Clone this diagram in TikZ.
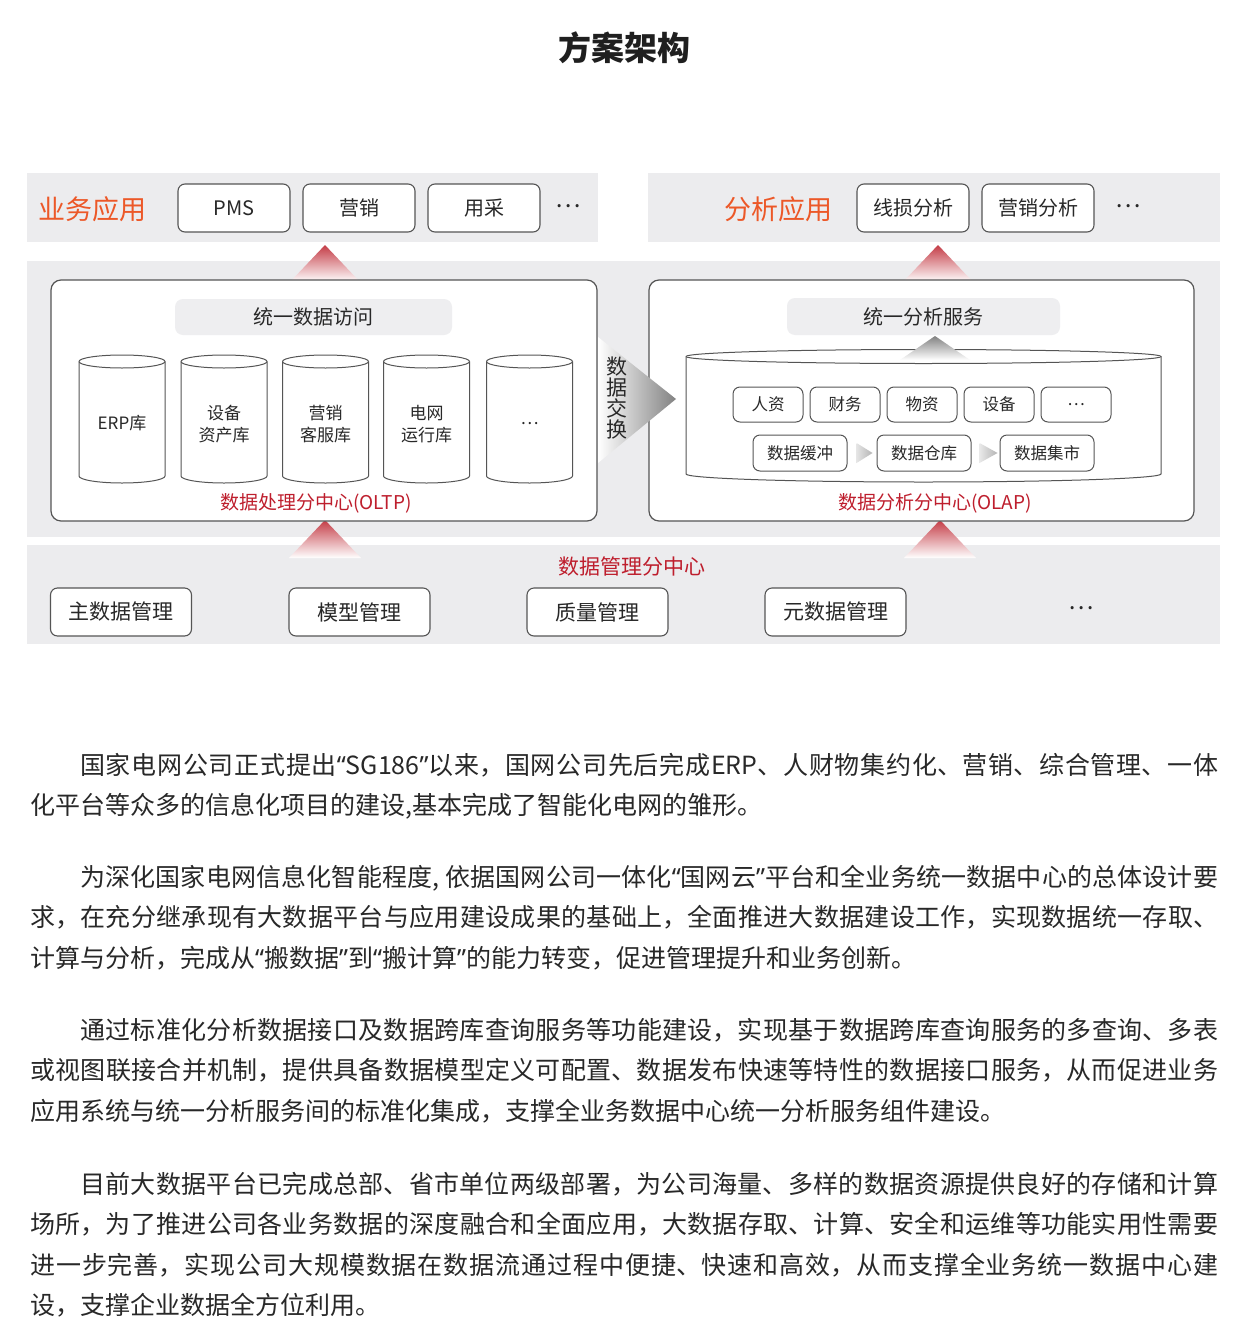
\documentclass[tikz,border=0pt]{standalone}
\usepackage{fontspec}
\setmainfont{Noto Sans CJK SC}
\newfontfamily\qtfont{Noto Sans}
\newcommand\qo{{\qtfont “}}
\newcommand\qc{{\qtfont ”}}
\XeTeXlinebreaklocale "zh"
\XeTeXlinebreakskip = 0pt plus 2pt minus 0.6pt
\tolerance=9999
\definecolor{bandgray}{RGB}{236,236,238}
\definecolor{boxline}{RGB}{85,85,85}
\definecolor{txt}{RGB}{40,40,40}
\definecolor{appred}{RGB}{236,88,40}
\definecolor{dred}{RGB}{190,30,45}
\definecolor{trired}{RGB}{196,60,70}
\definecolor{lightrect}{RGB}{238,238,240}
\definecolor{arrgray}{RGB}{130,130,130}
\tikzset{
  band/.style={fill=bandgray, draw=none},
  appbox/.style={draw=boxline, line width=1.1pt, rounded corners=7pt, fill=white,
    minimum width=112pt, minimum height=48pt, inner sep=0pt, text=txt, font=\fontsize{20}{24}\selectfont},
  mgbox/.style={appbox, minimum width=141pt, minimum height=48pt, font=\fontsize{21}{24}\selectfont},
  smallbox/.style={draw=boxline, line width=1pt, rounded corners=7pt, fill=white,
    minimum width=70pt, minimum height=35pt, inner sep=0pt, text=txt, font=\fontsize{16.5}{20}\selectfont},
  bufbox/.style={smallbox, minimum width=94pt, minimum height=36pt},
  panel/.style={draw=boxline, line width=1.2pt, rounded corners=10pt, fill=white},
  cyl/.style={draw=boxline, line width=1pt, fill=white},
  cyltxt/.style={text=txt, align=center, inner sep=0pt, font=\fontsize{17}{22}\selectfont},
  grouplabel/.style={text=appred, inner sep=0pt, font=\fontsize{27}{30}\selectfont},
  redlabel/.style={text=dred, inner sep=0pt, font=\fontsize{19}{22}\selectfont},
  svclabel/.style={text=txt, inner sep=0pt, font=\fontsize{20}{24}\selectfont},
  dotstxt/.style={text=txt, inner sep=0pt, font=\fontsize{24}{24}\selectfont},
  para/.style={anchor=base west, text width=1188pt, align=justify, inner sep=0pt,
    text=txt, font=\fontsize{25}{40.4}\selectfont},
}
\begin{document}
\begin{tikzpicture}[x=1pt,y=1pt]
\useasboundingbox[fill=white] (0,0) rectangle (1250,-1341);

% title
\node[text=black!88, font=\fontsize{33}{36}\selectfont\bfseries, inner sep=0pt] (title) at (624,-48) {方案架构};

% bands
\fill[band] (27,-173) rectangle (598,-242);
\fill[band] (648,-173) rectangle (1220,-242);
\fill[band] (27,-261) rectangle (1220,-537);
\fill[band] (27,-545) rectangle (1220,-644);

% top band left
\node[grouplabel] (ywyy) at (92,-209) {业务应用};
\node[appbox] (pms) at (234,-208) {PMS};
\node[appbox] (yx) at (359,-208) {营销};
\node[appbox] (yc) at (484,-208) {用采};
\node[dotstxt] (dots1) at (568,-206) {…};

% top band right
\node[grouplabel] (fxyy) at (778,-209) {分析应用};
\node[appbox] (xsfx) at (913,-208) {线损分析};
\node[appbox] (yxfx) at (1038,-208) {营销分析};
\node[dotstxt] (dots2) at (1128,-206) {…};

% upward triangles
\shade[top color=trired, bottom color=white] (325,-245) -- (360,-282) -- (290,-282) -- cycle;
\shade[top color=trired, bottom color=white] (938,-245) -- (973,-282) -- (903,-282) -- cycle;
\shade[top color=trired, bottom color=white] (325,-520) -- (361,-558) -- (289,-558) -- cycle;
\shade[top color=trired, bottom color=white] (940,-520) -- (976,-558) -- (904,-558) -- cycle;

% OLTP panel
\draw[panel] (51,-280) rectangle (597,-521);
\fill[lightrect, rounded corners=8pt] (175,-299) rectangle (452,-335);
\node[svclabel] (tysjfw) at (313,-317) {统一数据访问};
\foreach \cx in {122,224,325.5,426.5,529.5} {
  \draw[cyl] (\cx-43,-361.5) -- (\cx-43,-476)
     arc[start angle=180, end angle=360, x radius=43, y radius=7]
     -- (\cx+43,-361.5)
     arc[start angle=0, end angle=180, x radius=43, y radius=6.5] -- cycle;
  \draw[cyl] (\cx-43,-361.5) arc[start angle=180, end angle=360, x radius=43, y radius=6.5];
}
\node[cyltxt] (erp) at (122,-423) {ERP库};
\node[cyltxt] (sbzc) at (224,-424) {设备\\资产库};
\node[cyltxt] (yxkf) at (325.5,-424) {营销\\客服库};
\node[cyltxt] (dwyx) at (426.5,-424) {电网\\运行库};
\node[cyltxt] (dots3) at (529.5,-424) {…};
\node[redlabel] (oltp) at (316,-503) {数据处理分中心(OLTP)};

% OLAP panel
\draw[panel] (649,-280) rectangle (1194,-521);
\fill[lightrect, rounded corners=8pt] (787,-298) rectangle (1060,-335);
\node[svclabel] (tyfxfw) at (923,-317) {统一分析服务};
\draw[cyl] (686,-356.5) -- (686,-474)
   arc[start angle=180, end angle=360, x radius=237.5, y radius=8]
   -- (1161,-356.5)
   arc[start angle=0, end angle=180, x radius=237.5, y radius=7] -- cycle;
\draw[cyl] (686,-356.5) arc[start angle=180, end angle=360, x radius=237.5, y radius=7];
\shade[top color=arrgray, bottom color=white] (935,-336) -- (970,-360) -- (900,-360) -- cycle;

\node[smallbox] (rz) at (768,-404.5) {人资};
\node[smallbox] (cw) at (845,-404.5) {财务};
\node[smallbox] (wz) at (922,-404.5) {物资};
\node[smallbox] (sb) at (999,-404.5) {设备};
\node[smallbox] (dots4) at (1076,-404.5) {…};
\node[bufbox] (sjhc) at (800,-453) {数据缓冲};
\node[bufbox] (sjck) at (924,-453) {数据仓库};
\node[bufbox] (sjjs) at (1047,-453) {数据集市};
\shade[left color=white, right color=arrgray!60] (sjhc.east) ++(9,10) -- ++(16,-10) -- ++(-16,-10) -- cycle;
\shade[left color=white, right color=arrgray!60] (sjck.east) ++(8,10) -- ++(18,-10) -- ++(-18,-10) -- cycle;
\node[redlabel] (olap) at (935,-503) {数据分析分中心(OLAP)};

% data exchange arrow (over the panels)
\shade[left color=white, right color=arrgray] (598,-337) -- (676,-399) -- (598,-463) -- cycle;
\node[text=txt, align=center, inner sep=0pt, font=\fontsize{21}{21}\selectfont] (sjjh) at (617,-398) {数\\据\\交\\换};

% management band
\node[text=dred, inner sep=0pt, font=\fontsize{21}{24}\selectfont] (sjglfzx) at (632,-567) {数据管理分中心};
\node[mgbox] (zsjgl) at (121,-612) {主数据管理};
\node[mgbox] (mxgl) at (359.5,-612) {模型管理};
\node[mgbox] (zlgl) at (597.5,-612) {质量管理};
\node[mgbox] (ysjgl) at (835.5,-612) {元数据管理};
\node[dotstxt] (dots5) at (1081,-608) {…};

% text paragraphs
\node[para] (p1) at (30,-774.5) {\hspace*{2em}国家电网公司正式提出\qo SG186\qc 以来，国网公司先后完成ERP、人财物集约化、营销、综合管理、一体\linebreak 化平台等众多的信息化项目的建设,基本完成了智能化电网的雏形。};
\node[para] (p2) at (30,-886.5) {\hspace*{2em}为深化国家电网信息化智能程度, 依据国网公司一体化\qo 国网云\qc 平台和全业务统一数据中心的总体设计要\linebreak 求，在充分继承现有大数据平台与应用建设成果的基础上，全面推进大数据建设工作，实现数据统一存取、\linebreak 计算与分析，完成从\qo 搬数据\qc 到\qo 搬计算\qc 的能力转变，促进管理提升和业务创新。};
\node[para] (p3) at (30,-1039.5) {\hspace*{2em}通过标准化分析数据接口及数据跨库查询服务等功能建设，实现基于数据跨库查询服务的多查询、多表\linebreak 或视图联接合并机制，提供具备数据模型定义可配置、数据发布快速等特性的数据接口服务，从而促进业务\linebreak 应用系统与统一分析服务间的标准化集成，支撑全业务数据中心统一分析服务组件建设。};
\node[para] (p4) at (30,-1193.5) {\hspace*{2em}目前大数据平台已完成总部、省市单位两级部署，为公司海量、多样的数据资源提供良好的存储和计算\linebreak 场所，为了推进公司各业务数据的深度融合和全面应用，大数据存取、计算、安全和运维等功能实用性需要\linebreak 进一步完善，实现公司大规模数据在数据流通过程中便捷、快速和高效，从而支撑全业务统一数据中心建\linebreak 设，支撑企业数据全方位利用。};
\end{tikzpicture}
\end{document}
